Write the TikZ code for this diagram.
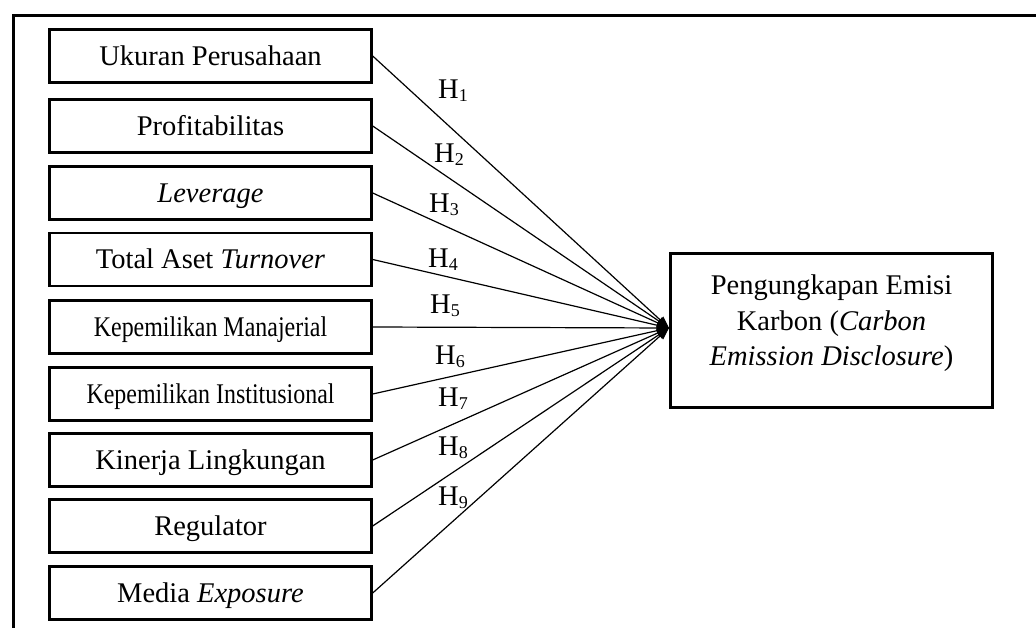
\documentclass[tikz,border=0pt]{standalone}
\usepackage{fontspec}
\usepackage{graphicx}
\setmainfont{Liberation Serif}
\usetikzlibrary{arrows.meta}
\newcommand{\hsub}[1]{\raisebox{-3pt}{\fontsize{18}{20}\selectfont #1}}
\begin{document}
\begin{tikzpicture}[x=1pt,y=-1pt,
  varbox/.style={draw,line width=2.4pt,minimum width=322pt,minimum height=53pt,inner sep=0pt,
    font=\fontsize{28.5}{35.5}\selectfont,text height=19pt,text depth=0pt},
  conn/.style={line width=1.2pt,-{Triangle[length=12pt,width=9pt]}},
  hlab/.style={font=\fontsize{28.5}{35.5}\selectfont,inner sep=0pt},
  frame/.style={line width=3pt}]
\useasboundingbox (0,0) rectangle (1036,628);
\coordinate (fr1) at (1036,16);
\coordinate (fr2) at (13,16);
\coordinate (fr3) at (13,628);
\draw[frame] (fr1) -- (fr2) -- (fr3);

\node[varbox] (b1) at (210.5,56) {Ukuran Perusahaan};
\node[varbox] (b2) at (210.5,126) {Profitabilitas};
\node[varbox] (b3) at (210.5,193) {\textit{Leverage}};
\node[varbox] (b4) at (210.5,259.5) {Total Aset \textit{Turnover}};
\node[varbox] (b5) at (210.5,327) {\scalebox{0.84}[1]{Kepemilikan Manajerial}};
\node[varbox] (b6) at (210.5,394) {\scalebox{0.84}[1]{Kepemilikan Institusional}};
\node[varbox] (b7) at (210.5,460) {Kinerja Lingkungan};
\node[varbox] (b8) at (210.5,526) {Regulator};
\node[varbox] (b9) at (210.5,593) {Media \textit{Exposure}};

\node[draw,line width=2.4pt,minimum width=322pt,minimum height=154pt,inner sep=0pt] (tgt) at (831.5,330.5) {};
\node[align=center,font=\fontsize{28.5}{35.5}\selectfont,inner sep=0pt] (tgttext) at ([yshift=7pt]tgt.center)
  {Pengungkapan Emisi\\Karbon (\textit{Carbon}\\\textit{Emission Disclosure})};

\coordinate (tip) at (669,328);
\foreach \i in {1,...,9} {\draw[conn] (b\i.east) -- (tip);}

\node[hlab] (h1) at (453,91) {H\hsub{1}};
\node[hlab] (h2) at (449,155) {H\hsub{2}};
\node[hlab] (h3) at (444,205) {H\hsub{3}};
\node[hlab] (h4) at (443,260) {H\hsub{4}};
\node[hlab] (h5) at (445,306) {H\hsub{5}};
\node[hlab] (h6) at (450,357) {H\hsub{6}};
\node[hlab] (h7) at (453,399) {H\hsub{7}};
\node[hlab] (h8) at (453,448) {H\hsub{8}};
\node[hlab] (h9) at (453,498) {H\hsub{9}};
\end{tikzpicture}
\end{document}
